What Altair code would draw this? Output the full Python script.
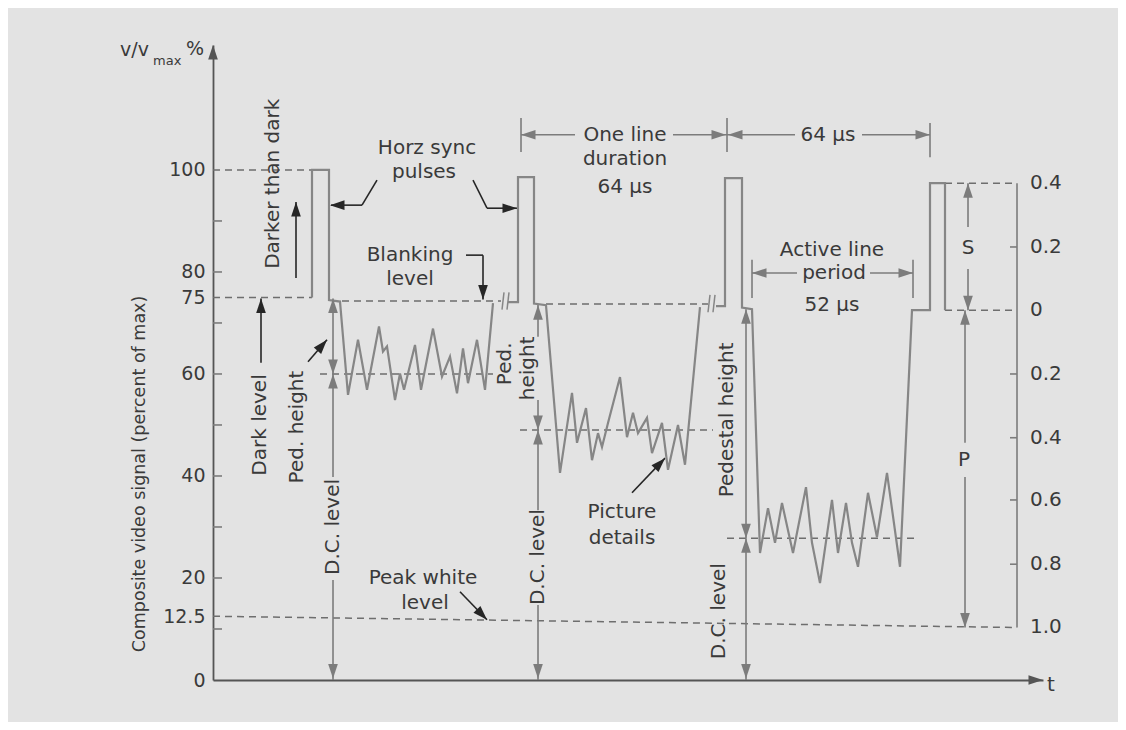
import math
import altair as alt
import pandas as pd

# ---------------- data (t in arbitrary units, v in percent of max) ----------------
SIG1_X = [99, 99, 116, 116, 127, 135, 145, 154, 166, 170, 174, 182, 187, 191, 202, 208, 220, 229, 237, 244, 250, 255, 264, 272, 280]
SIG1_Y = [75, 100, 100, 74.5, 74.2, 55.9, 66.7, 56.9, 69.3, 64.4, 65.4, 54.9, 60.1, 56.9, 65.7, 56.9, 68.9, 59.5, 63.4, 56.2, 65.0, 58.2, 66.7, 56.9, 73.9]
SIG2_X = [295, 305, 305, 321, 321, 333, 347, 359, 364, 373, 379, 385, 389, 395, 407, 414, 420, 425, 434, 439, 449, 455, 465, 472, 487]
SIG2_Y = [74.1, 74.1, 98.6, 98.6, 73.8, 73.5, 40.6, 56.3, 46.5, 53.3, 43.1, 48.4, 45.7, 50.4, 59.4, 47.6, 52.4, 48.4, 51.4, 44.5, 50.4, 41.2, 50.0, 42.2, 73.1]
SIG3_X = [503, 512, 512, 529, 529, 539, 547, 555, 562, 569, 580, 593, 599, 607, 619, 625, 633, 639, 645, 655, 664, 674, 687, 699, 717, 717, 732, 732]
SIG3_Y = [73.3, 73.3, 98.4, 98.4, 73.0, 72.7, 24.9, 33.7, 26.9, 34.7, 24.9, 37.8, 26.9, 19.0, 35.3, 24.9, 34.7, 26.9, 22.2, 36.7, 28.0, 40.6, 22.2, 72.5, 72.5, 97.4, 97.4, 72.5]

DASH_X1 = [0, 0, 129, 333, 732, 732, 0, 107, 307, 514]
DASH_Y1 = [100, 75, 74.3, 73.7, 97.4, 72.5, 12.5, 60, 49, 27.8]
DASH_X2 = [99, 99, 288, 495, 804, 804, 804, 280, 500, 705]
DASH_Y2 = [100, 75, 74.3, 73.7, 97.4, 72.5, 10.3, 60, 49, 27.8]

BRK_X1 = [289, 294, 495, 500]
BRK_Y1 = [72.6, 72.6, 72.1, 72.1]
BRK_X2 = [291, 296, 497, 502]
BRK_Y2 = [76.0, 76.0, 75.5, 75.5]

LTICK_Y = [10, 20, 30, 40, 50, 60, 70, 80, 90]
LEFT_LABELS = [0, 12.5, 20, 40, 60, 75, 80, 100]

RIGHT_LABELS = ["0.4", "0.2", "0", "0.2", "0.4", "0.6", "0.8", "1.0"]
RIGHT_Y = [97.4, 84.9, 72.5, 60.0, 47.5, 35.3, 22.7, 10.3]
RTICK_Y = [84.9, 60.0, 47.5, 35.3, 22.7]

DIM_X1 = [804, 120, 120, 120, 325, 325, 325, 325, 533, 533, 755, 755, 752, 752,
          308, 514, 308, 460, 717, 514, 649, 539, 700, 539, 657]
DIM_Y1 = [10.3, 74.8, 60, 19.6, 73.5, 54.9, 49, 14.7, 72.7, 27.8, 97.4, 80.6, 72.5, 39.8,
          103.5, 103.5, 106.9, 106.9, 102.5, 106.9, 106.9, 74.9, 74.9, 79.8, 79.8]
DIM_X2 = [804, 120, 120, 120, 325, 325, 325, 325, 533, 533, 755, 755, 752, 752,
          308, 514, 362, 514, 717, 582, 717, 539, 700, 584, 700]
DIM_Y2 = [97.4, 60, 39.8, 0, 67.3, 49, 33.3, 0, 27.8, 0, 88.8, 72.5, 46.5, 10.3,
          110.2, 110.2, 106.9, 106.9, 109.2, 106.9, 106.9, 82.4, 82.4, 79.8, 79.8]

BLK_X1 = [83, 48, 253, 270, 164, 149, 260, 274, 95, 419, 247]
BLK_Y1 = [78.8, 62.2, 83.3, 83.3, 98.0, 93.1, 98.0, 92.5, 62.4, 36.7, 17.3]
BLK_X2 = [83, 48, 270, 270, 149, 118, 274, 304, 114, 452, 274]
BLK_Y2 = [93.7, 74.8, 83.3, 74.6, 93.1, 93.1, 92.5, 92.5, 66.7, 43.5, 11.8]

# arrow heads: tip position and direction (degrees clockwise from up)
GAH_X = [120, 120, 120, 120, 325, 325, 325, 325, 533, 533, 533, 533, 755, 755, 752, 752, 308, 513, 515, 717, 539, 700]
GAH_Y = [74.8, 60, 60, 0.3, 73.5, 49, 49, 0.3, 72.7, 27.8, 27.8, 0.3, 97.4, 72.5, 72.5, 10.3, 106.9, 106.9, 106.9, 106.9, 79.8, 79.8]
GAH_A = [0, 180, 0, 180, 0, 180, 0, 180, 0, 180, 0, 180, 0, 180, 0, 180, 270, 90, 270, 90, 270, 90]
BAH_X = [83, 48, 270, 117, 304]
BAH_Y = [93.7, 74.8, 74.6, 93.1, 92.5]
BAH_A = [0, 0, 180, 270, 90]
DIAG_IDX = [8, 9, 10]  # black pointer lines that end with a head

AX_AH_X = [0, 830]
AX_AH_Y = [124.5, 0]
AX_AH_A = [0, 90]

H_TEXT = ["Horz sync", "pulses", "Blanking", "level", "One line", "duration", "64 μs", "64 μs",
          "Active line", "period", "52 μs", "S", "P", "Picture", "details", "Peak white", "level"]
H_X = [214, 211, 197, 197, 412, 412, 412, 615, 619, 621, 619, 755, 751, 409, 409, 210, 212]
H_Y = [104.3, 99.6, 83.3, 78.6, 106.8, 102.1, 96.6, 106.8, 84.4, 79.8, 73.6, 84.7, 43.1, 32.9, 27.8, 20.0, 15.1]

R_TEXT = ["Darker than dark", "Dark level", "Ped. height", "D.C. level", "Ped.", "height",
          "D.C. level", "Pedestal height", "D.C. level"]
R_X = [60, 47, 84, 120, 292, 315, 325, 514, 506]
R_Y = [97.3, 50.0, 49.6, 30.0, 62.0, 61.1, 24.1, 51.0, 13.5]

Y_TITLE = "Composite video signal (percent of max)"
Y_TITLE_X = -73
Y_TITLE_Y = 40.4

# ---------------- styles ----------------
FONT = "DejaVu Sans"
BG = "#e3e3e3"
TXT = "#3a3a3a"
SIG = "#868686"
DASH = "#6e6e6e"
DIMC = "#7c7c7c"
BLK = "#262626"
AXC = "#555555"
PX_PER_Y = 635 / 124.5
HEAD = "M0,0 L-0.6,1.8 L0.6,1.8 Z"

XS = alt.Scale(domain=[0, 830], nice=False, zero=False)
YS = alt.Scale(domain=[0, 124.5], nice=False, zero=False)
XAX = alt.Axis(title=None, labels=False, ticks=False, grid=False, domainColor=AXC, domainWidth=1.8)
YAX = alt.Axis(title=None, values=LEFT_LABELS, labelExpr="toString(datum.value)", ticks=False, tickSize=0,
               grid=False, domainColor=AXC, domainWidth=1.8, labelFont=FONT, labelFontSize=19,
               labelColor=TXT, labelPadding=8)


def X(f):
    return alt.X(f, type="quantitative", scale=XS, axis=XAX)


def Y(f):
    return alt.Y(f, type="quantitative", scale=YS, axis=YAX)


# ---------------- tables ----------------
sig_rows = []
for s, (xs, ys) in enumerate([(SIG1_X, SIG1_Y), (SIG2_X, SIG2_Y), (SIG3_X, SIG3_Y)]):
    for i, (a, b) in enumerate(zip(xs, ys)):
        sig_rows.append({"seg": s, "i": i, "x": a, "y": b})
sig = pd.DataFrame(sig_rows)

dash = pd.DataFrame({"x1": DASH_X1, "y1": DASH_Y1, "x2": DASH_X2, "y2": DASH_Y2})
brk = pd.DataFrame({"x1": BRK_X1, "y1": BRK_Y1, "x2": BRK_X2, "y2": BRK_Y2})

dim_x1 = DIM_X1 + [0] * len(LTICK_Y) + [797] * len(RTICK_Y)
dim_y1 = DIM_Y1 + LTICK_Y + RTICK_Y
dim_x2 = DIM_X2 + [9] * len(LTICK_Y) + [804] * len(RTICK_Y)
dim_y2 = DIM_Y2 + LTICK_Y + RTICK_Y
dims = pd.DataFrame({"x1": dim_x1, "y1": dim_y1, "x2": dim_x2, "y2": dim_y2})
blk = pd.DataFrame({"x1": BLK_X1, "y1": BLK_Y1, "x2": BLK_X2, "y2": BLK_Y2})


def heading(i):
    dx = BLK_X2[i] - BLK_X1[i]
    dy = -(BLK_Y2[i] - BLK_Y1[i]) * PX_PER_Y
    return math.degrees(math.atan2(dx, -dy)) % 360


bx = BAH_X + [BLK_X2[i] for i in DIAG_IDX]
by = BAH_Y + [BLK_Y2[i] for i in DIAG_IDX]
ba = BAH_A + [heading(i) for i in DIAG_IDX]
heads = pd.DataFrame({
    "x": GAH_X + bx + AX_AH_X,
    "y": GAH_Y + by + AX_AH_Y,
    "a": GAH_A + ba + AX_AH_A,
    "c": [DIMC] * len(GAH_X) + [BLK] * len(bx) + [AXC] * len(AX_AH_X),
})

htext = pd.DataFrame({"t": H_TEXT, "x": H_X, "y": H_Y})
rtext = pd.DataFrame({"t": R_TEXT, "x": R_X, "y": R_Y})
ytitle = pd.DataFrame({"t": [Y_TITLE], "x": [Y_TITLE_X], "y": [Y_TITLE_Y]})
right = pd.DataFrame({"t": RIGHT_LABELS, "x": [817] * len(RIGHT_LABELS), "y": RIGHT_Y})
corner_l = pd.DataFrame({"t": ["v/v"], "x": [-64], "y": [123.5]})
corner_r = pd.DataFrame({"t": ["%"], "x": [-27], "y": [123.7]})
sub = pd.DataFrame({"t": ["max"], "x": [-60], "y": [121.3]})
tlab = pd.DataFrame({"t": ["t"], "x": [834], "y": [-1.0]})

# ---------------- layers ----------------
sig_layer = alt.Chart(sig).mark_line(color=SIG, strokeWidth=2.2, strokeJoin="miter").encode(
    x=X("x"), y=Y("y"), detail="seg:N", order="i:Q")
dash_layer = alt.Chart(dash).mark_rule(color=DASH, strokeWidth=1.5, strokeDash=[7, 5]).encode(
    x=X("x1"), y=Y("y1"), x2="x2", y2="y2")
brk_layer = alt.Chart(brk).mark_rule(color=SIG, strokeWidth=1.5).encode(
    x=X("x1"), y=Y("y1"), x2="x2", y2="y2")
dim_layer = alt.Chart(dims).mark_rule(color=DIMC, strokeWidth=1.6).encode(
    x=X("x1"), y=Y("y1"), x2="x2", y2="y2")
blk_layer = alt.Chart(blk).mark_rule(color=BLK, strokeWidth=1.6).encode(
    x=X("x1"), y=Y("y1"), x2="x2", y2="y2")
head_layer = alt.Chart(heads).mark_point(shape=HEAD, filled=True, size=260, opacity=1, strokeWidth=0).encode(
    x=X("x"), y=Y("y"), angle=alt.Angle("a:Q", scale=None), color=alt.Color("c:N", scale=None))

ht_layer = alt.Chart(htext).mark_text(font=FONT, fontSize=20, color=TXT, align="center", baseline="middle").encode(
    x=X("x"), y=Y("y"), text="t:N")
rt_layer = alt.Chart(rtext).mark_text(font=FONT, fontSize=20, color=TXT, align="center", baseline="middle",
                                      angle=270).encode(x=X("x"), y=Y("y"), text="t:N")
yt_layer = alt.Chart(ytitle).mark_text(font=FONT, fontSize=17.5, color=TXT, align="center", baseline="middle",
                                       angle=270).encode(x=X("x"), y=Y("y"), text="t:N")
right_layer = alt.Chart(right).mark_text(font=FONT, fontSize=20, color=TXT, align="left", baseline="middle").encode(
    x=X("x"), y=Y("y"), text="t:N")
cl_layer = alt.Chart(corner_l).mark_text(font=FONT, fontSize=19, color=TXT, align="right", baseline="middle").encode(
    x=X("x"), y=Y("y"), text="t:N")
cr_layer = alt.Chart(corner_r).mark_text(font=FONT, fontSize=19, color=TXT, align="left", baseline="middle").encode(
    x=X("x"), y=Y("y"), text="t:N")
sub_layer = alt.Chart(sub).mark_text(font=FONT, fontSize=13, color=TXT, align="left", baseline="middle").encode(
    x=X("x"), y=Y("y"), text="t:N")
t_layer = alt.Chart(tlab).mark_text(font=FONT, fontSize=20, color=TXT, align="left", baseline="middle").encode(
    x=X("x"), y=Y("y"), text="t:N")

chart = alt.layer(
    dash_layer, brk_layer, dim_layer, blk_layer, sig_layer, head_layer,
    ht_layer, rt_layer, yt_layer, right_layer, cl_layer, cr_layer, sub_layer, t_layer,
).properties(
    width=830, height=635,
    padding={"left": 205, "top": 37, "right": 75, "bottom": 42},
    autosize=alt.AutoSizeParams(type="none"),
    background=BG,
).configure_view(stroke=None)

chart.save("out.html", embed_options={"renderer": "svg", "actions": False})
